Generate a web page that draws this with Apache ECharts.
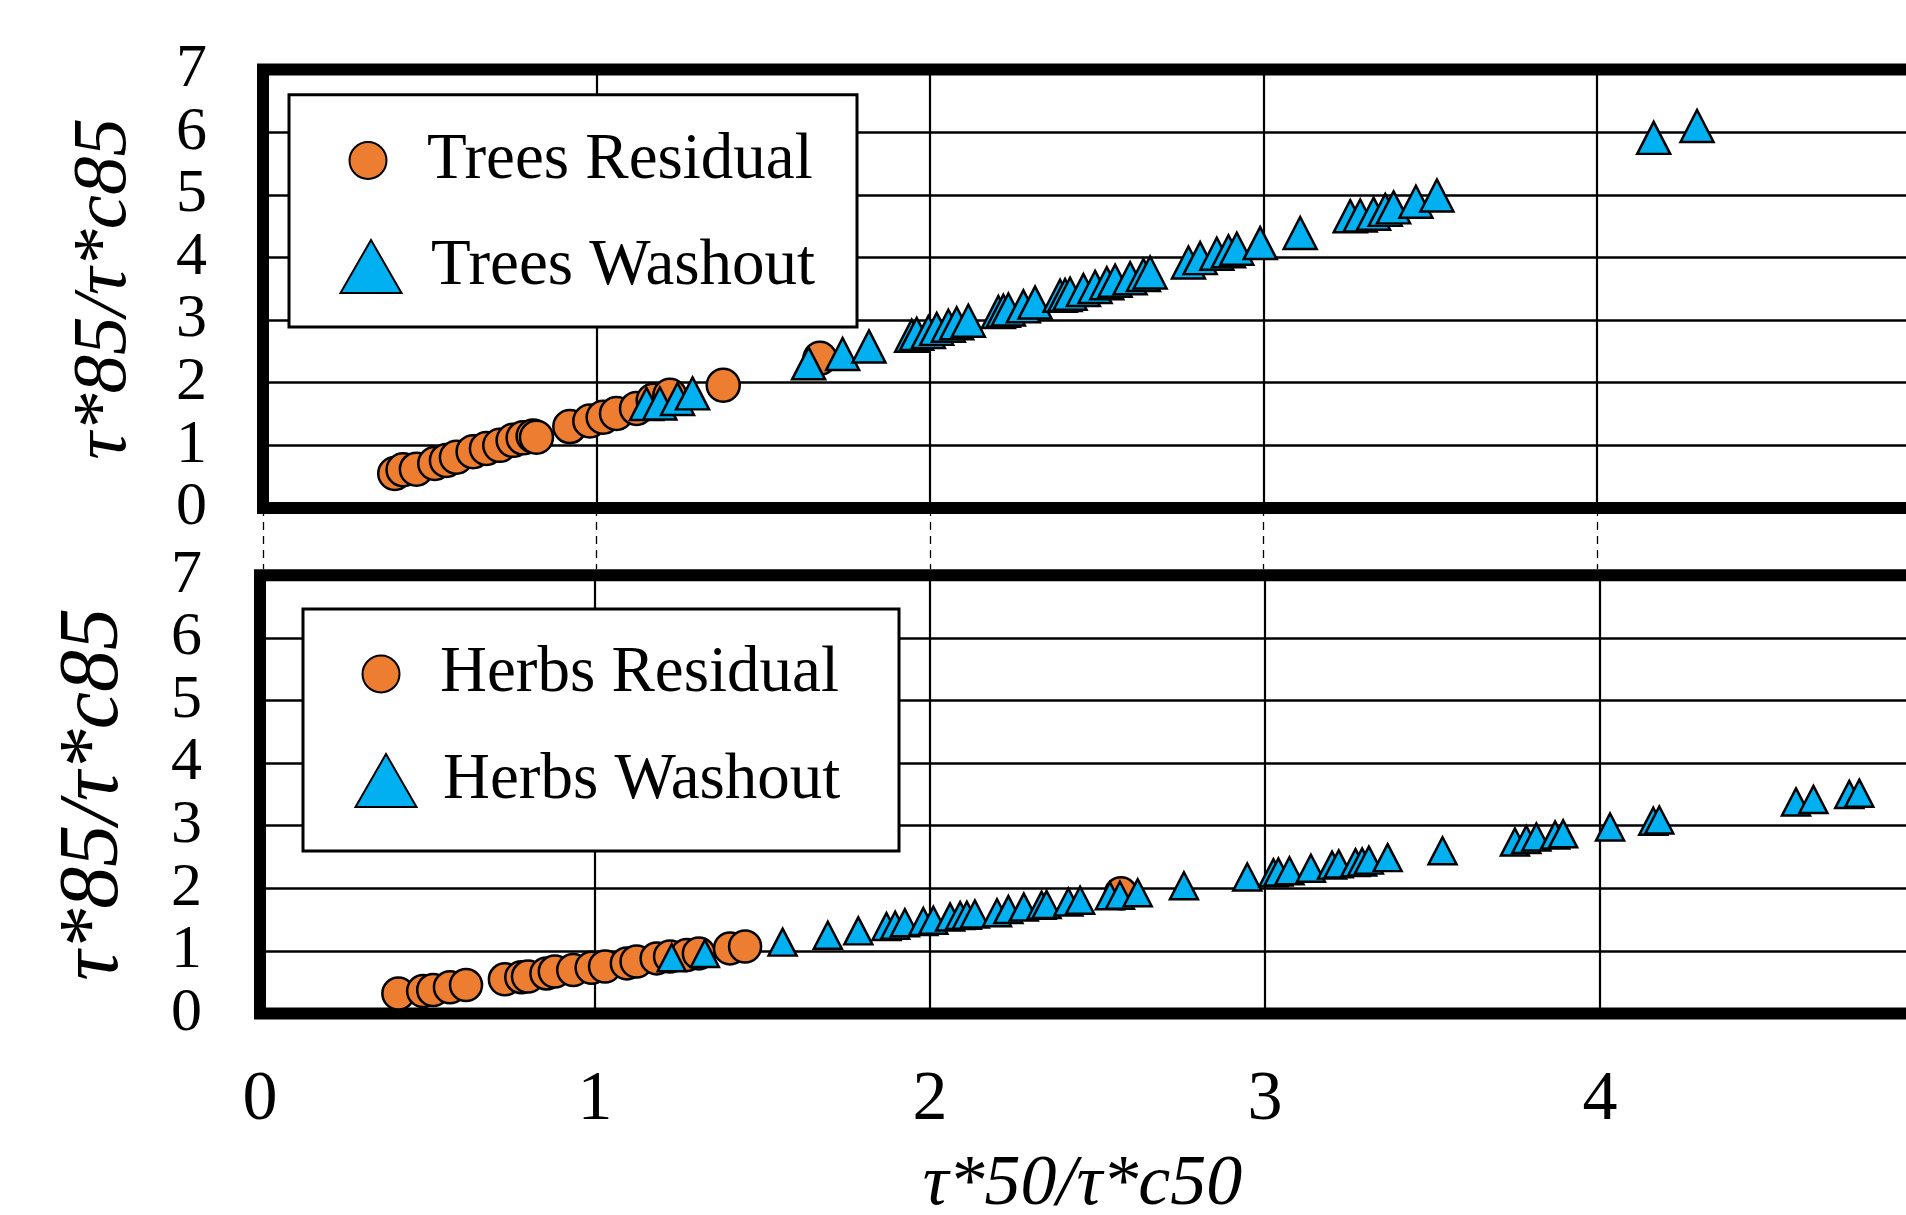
<!DOCTYPE html>
<html>
<head>
<meta charset="utf-8">
<title>tau*85 vs tau*50</title>
<script src="https://cdn.jsdelivr.net/npm/echarts@6/dist/echarts.min.js"></script>
<style>
  html, body { margin: 0; padding: 0; background: #fff; }
  #chart { width: 1906px; height: 1215px; }
</style>
</head>
<body>
<div id="chart"></div>
<script>
// axis ticks (shared by both panels)
const xTicks = [0, 1, 2, 3, 4, 5]
const yTicks = [0, 1, 2, 3, 4, 5, 6, 7]

// upper panel - trees
const treesResidualX = [0.395, 0.42, 0.46, 0.515, 0.55, 0.58, 0.63, 0.67, 0.71, 0.75, 0.78, 0.81, 0.82,
  0.92, 0.98, 1.02, 1.06, 1.12, 1.17, 1.22, 1.38, 1.67]
const treesResidualY = [0.55, 0.61, 0.62, 0.71, 0.76, 0.81, 0.90, 0.95, 1.0, 1.08, 1.12, 1.15, 1.13,
  1.30, 1.39, 1.45, 1.51, 1.59, 1.72, 1.80, 1.96, 2.39]
const treesWashoutX = [1.15, 1.19, 1.243, 1.288, 1.636, 1.738, 1.817, 1.945, 1.96, 1.995, 2.02, 2.055,
  2.08, 2.115, 2.205, 2.22, 2.235, 2.28, 2.315, 2.39, 2.405, 2.42, 2.46, 2.495, 2.53, 2.555, 2.60,
  2.64, 2.66, 2.775, 2.81, 2.86, 2.895, 2.92, 2.99, 3.11, 3.26, 3.29, 3.33, 3.365, 3.39, 3.457,
  3.52, 4.17, 4.30]
const treesWashoutY = [1.66, 1.67, 1.74, 1.83, 2.31, 2.46, 2.58, 2.75, 2.78, 2.81, 2.86, 2.91,
  2.95, 2.99, 3.13, 3.15, 3.17, 3.22, 3.28, 3.39, 3.40, 3.42, 3.48, 3.53, 3.59, 3.63, 3.67,
  3.72, 3.76, 3.92, 3.99, 4.06, 4.10, 4.14, 4.23, 4.39, 4.66, 4.67, 4.70, 4.76, 4.80, 4.89,
  4.99, 5.91, 6.10]

// lower panel - herbs
const herbsResidualX = [0.413, 0.487, 0.517, 0.567, 0.615, 0.731, 0.78, 0.80, 0.855, 0.88, 0.935,
  0.99, 1.03, 1.095, 1.124, 1.184, 1.224, 1.274, 1.31, 1.403, 1.448, 2.57]
const herbsResidualY = [0.32, 0.36, 0.375, 0.42, 0.455, 0.546, 0.58, 0.59, 0.64, 0.67, 0.695,
  0.73, 0.75, 0.80, 0.83, 0.88, 0.91, 0.935, 0.96, 1.04, 1.07, 1.92]
const herbsWashoutX = [1.229, 1.328, 1.56, 1.695, 1.786, 1.87, 1.896, 1.925, 1.98, 2.01, 2.06, 2.09,
  2.11, 2.134, 2.20, 2.234, 2.28, 2.333, 2.348, 2.413, 2.448, 2.537, 2.567, 2.62, 2.758, 2.947,
  3.025, 3.04, 3.073, 3.137, 3.20, 3.22, 3.27, 3.29, 3.31, 3.366, 3.53, 3.746, 3.78, 3.81, 3.866,
  3.89, 4.03, 4.159, 4.177, 4.585, 4.637, 4.744, 4.774, 4.96]
const herbsWashoutY = [0.89, 0.96, 1.14, 1.25, 1.32, 1.39, 1.41, 1.45, 1.47, 1.49, 1.54, 1.565,
  1.57, 1.59, 1.61, 1.66, 1.70, 1.73, 1.74, 1.78, 1.81, 1.88, 1.89, 1.93, 2.04, 2.18,
  2.25, 2.26, 2.28, 2.32, 2.37, 2.39, 2.41, 2.42, 2.45, 2.49, 2.60, 2.74, 2.78, 2.82, 2.85,
  2.87, 2.98, 3.07, 3.09, 3.38, 3.42, 3.50, 3.52, 3.60]

const FONT = 'Liberation Serif'
const ORANGE = '#ED7D31'
const BLUE = '#00B0F0'
const TRI = 'path://M30.5,0 L61,53 L0,53 Z'

const pair = (xs, ys) => xs.map((x, i) => [x, ys[i]])

const xAxisFor = (gridIndex, isBottom) => ({
  type: 'value',
  gridIndex: gridIndex,
  min: xTicks[0],
  max: xTicks[xTicks.length - 1],
  interval: xTicks[1] - xTicks[0],
  axisLine: { show: false },
  // upper panel: dashed ticks run down to the lower frame
  axisTick: isBottom
    ? { show: false }
    : { show: true, length: 61, lineStyle: { color: '#000', width: 1.3, type: [8, 6] } },
  axisLabel: isBottom
    ? { show: true, margin: 52, fontFamily: FONT, fontSize: 70, color: '#000', showMinLabel: true }
    : { show: false },
  splitLine: { show: true, lineStyle: { color: '#000', width: 2.2 } },
  name: isBottom ? 'τ*50/τ*c50' : '',
  nameLocation: 'middle',
  nameGap: 136,
  nameTextStyle: { fontFamily: FONT, fontStyle: 'italic', fontSize: 72, color: '#000', padding: [0, 30, 0, 0] }
})

const yAxisFor = (gridIndex, nameSize, nameGap, labelMargin) => ({
  type: 'value',
  gridIndex: gridIndex,
  min: yTicks[0],
  max: yTicks[yTicks.length - 1],
  interval: yTicks[1] - yTicks[0],
  axisLine: { show: false },
  axisTick: { show: false },
  axisLabel: {
    margin: labelMargin, fontFamily: FONT, fontSize: 62, color: '#000',
    showMinLabel: true, showMaxLabel: true, hideOverlap: false
  },
  splitLine: { show: true, lineStyle: { color: '#000', width: 2.7 } },
  name: 'τ*85/τ*c85',
  nameLocation: 'middle',
  nameGap: nameGap,
  nameTextStyle: { fontFamily: FONT, fontStyle: 'italic', fontSize: nameSize, color: '#000' }
})

const markerStyle = color => ({ color: color, borderColor: '#000', borderWidth: 2.5, opacity: 1 })

// left/top place the legend content box (icon edge / text box top)
const legendFor = (name, icon, left, top, w, h) => ({
  data: [{ name: name, icon: icon }],
  left: left,
  top: top,
  padding: 0,
  itemWidth: w,
  itemHeight: h,
  symbolKeepAspect: true,
  selectedMode: false,
  z: 5,
  textStyle: { fontFamily: FONT, fontSize: 65, color: '#000' }
})

const chart = echarts.init(document.getElementById('chart'))
chart.setOption({
  backgroundColor: '#fff',
  animation: false,
  grid: [
    { left: 263, top: 69.6, height: 438.4, right: -24.5, show: true, borderColor: '#000', borderWidth: 12, backgroundColor: 'transparent', outerBoundsMode: 'none' },
    { left: 260, top: 575.3, height: 438.2, right: -29, show: true, borderColor: '#000', borderWidth: 12, backgroundColor: 'transparent', outerBoundsMode: 'none' }
  ],
  xAxis: [xAxisFor(0, false), xAxisFor(1, true)],
  yAxis: [yAxisFor(0, 77, 120, 56), yAxisFor(1, 84, 123, 58)],
  legend: [
    legendFor('Trees Residual', 'circle', 348.5, 128, 108, 37),
    legendFor('Trees Washout', TRI, 339.5, 234, 110, 53),
    legendFor('Herbs Residual', 'circle', 361.5, 641.5, 108, 37),
    legendFor('Herbs Washout', TRI, 354.5, 748, 104, 53)
  ],
  graphic: [
    { type: 'rect', z: 3, shape: { x: 289, y: 94.7, width: 568, height: 232.3 }, style: { fill: '#fff', stroke: '#000', lineWidth: 3 } },
    { type: 'rect', z: 3, shape: { x: 303, y: 609, width: 596, height: 242 }, style: { fill: '#fff', stroke: '#000', lineWidth: 3 } }
  ],
  series: [
    { name: 'Trees Residual', type: 'scatter', xAxisIndex: 0, yAxisIndex: 0, symbol: 'circle', symbolSize: 33,
      itemStyle: markerStyle(ORANGE), data: pair(treesResidualX, treesResidualY) },
    { name: 'Trees Washout', type: 'scatter', xAxisIndex: 0, yAxisIndex: 0, symbol: 'triangle', symbolSize: [33, 32],
      itemStyle: markerStyle(BLUE), data: pair(treesWashoutX, treesWashoutY) },
    { name: 'Herbs Residual', type: 'scatter', xAxisIndex: 1, yAxisIndex: 1, symbol: 'circle', symbolSize: 32,
      itemStyle: markerStyle(ORANGE), data: pair(herbsResidualX, herbsResidualY) },
    { name: 'Herbs Washout', type: 'scatter', xAxisIndex: 1, yAxisIndex: 1, symbol: 'triangle', symbolSize: [28, 27],
      itemStyle: markerStyle(BLUE), data: pair(herbsWashoutX, herbsWashoutY) }
  ]
})
</script>
</body>
</html>
